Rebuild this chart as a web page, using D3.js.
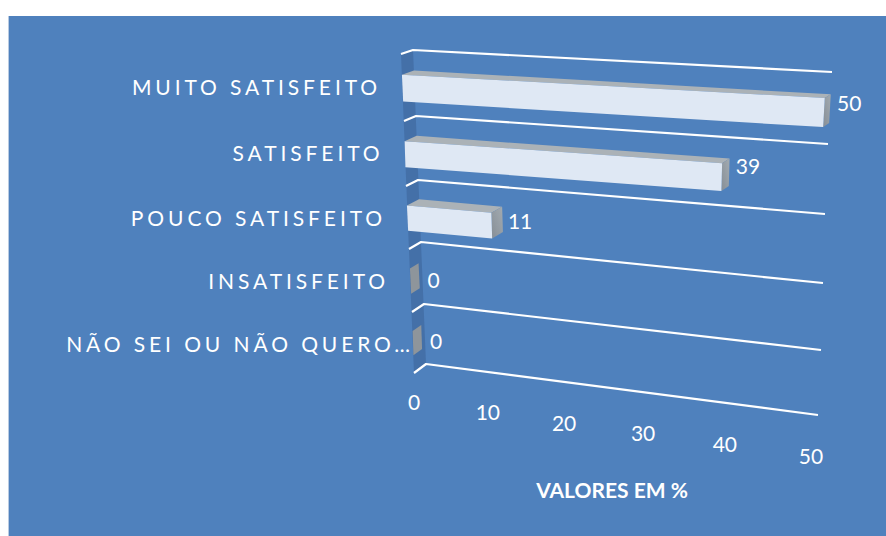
<!DOCTYPE html>
<html><head><meta charset="utf-8">
<script src="https://cdnjs.cloudflare.com/ajax/libs/d3/7.8.5/d3.min.js"></script>
<style>html,body{margin:0;padding:0;background:#fff}svg{display:block}text{font-family:Lato,"Open Sans",sans-serif;fill:#fff}</style>
</head><body><svg id="c" width="886" height="536"></svg>
<script>
const categories = ["MUITO SATISFEITO","SATISFEITO","POUCO SATISFEITO","INSATISFEITO","NÃO SEI OU NÃO QUERO…"];
const values = [50,39,11,0,0];
const ticks = [0,10,20,30,40,50];
const axisTitle = "VALORES EM %";

const svg = d3.select("#c");
const rows = d3.range(6);
// perspective: value -> fraction along the wall, row -> wall edge position
const frac = d3.scaleLinear().domain(ticks).range([0,.186,.378,.577,.783,1]);
const leftX = d3.scaleLinear().domain(rows).range([413,416,418,421,424,426]);
const leftY = d3.scaleLinear().domain(rows).range([50,116,180,242,304,364]);
const rightX = d3.scaleLinear().domain(rows).range([832,828,825,823,821,818]);
const rightY = d3.scaleLinear().domain(rows).range([72,144,214,283,350,415]);
const depthX = d3.scaleLinear().domain([0,1]).range([-12,-6]);
const depthY = d3.scaleLinear().domain([0,5]).range([4,9]);
function P(v,w,d){
  const u=frac(v);
  return [leftX(w)+(rightX(w)-leftX(w))*u+depthX(u)*d,
          leftY(w)+(rightY(w)-leftY(w))*u+depthY(w)*d*(1-.15*u)];
}
const line=d3.line();
const poly=pts=>line(pts)+"Z";
const defs=svg.append("defs");
const g=defs.append("linearGradient").attr("id","side").attr("x1",0).attr("y1",1).attr("x2",1).attr("y2",0);
g.append("stop").attr("offset",0).attr("stop-color","#868E96");
g.append("stop").attr("offset",1).attr("stop-color","#A3ABB1");

svg.append("rect").attr("x",8).attr("y",16).attr("width",1).attr("height",520).attr("fill","#B9CBE2");
svg.append("rect").attr("x",9).attr("y",16).attr("width",877).attr("height",520).attr("fill","#4F81BD");

// side wall
svg.append("path").attr("fill","#4470A8").attr("d",poly([P(0,0,0),P(0,5,0),P(0,5,1),P(0,0,1)]));
// gridlines
rows.forEach(r=>{
  svg.append("path").attr("fill","none").attr("stroke","#fff").attr("stroke-width",2.2)
   .attr("stroke-linejoin","round").attr("d",line([P(0,r,1),P(0,r,0),P(50,r,0)]));
});
// bars
const barTop=.31, barBot=.71;
values.forEach((v,i)=>{
  const a=i+barTop,b=i+barBot,d0=v===0?.28:0,u=frac(v);
  svg.append("path").attr("fill","#ABB2B7").attr("d",poly([P(0,a,1),P(0,a,d0),P(v,a,d0),P(v,a,1)]));
  svg.append("path").attr("fill",v===0?"#8E959B":"url(#side)").attr("d",poly([P(v,a,1),P(v,a,d0),P(v,b,d0),P(v,b,1)]));
  svg.append("path").attr("fill","#DFE8F4").attr("d",poly([P(0,a,1),P(v,a,1),P(v,b,1),P(0,b,1)]));
  const e=P(v,i+.5,0);
  svg.append("text").attr("x",e[0]+5+2*u).attr("y",e[1]+Math.max(-2.5,10-25*u)).attr("dominant-baseline","middle")
    .attr("font-size",21).text(v);
  const f=P(0,i+.5,1);
  svg.append("text").attr("x",f[0]-(i===4?-1:21.5)).attr("y",f[1]+2+i*.5).attr("dominant-baseline","middle")
    .attr("text-anchor","end").attr("font-size",21).attr("letter-spacing",3.9).text(categories[i]);
});
// axis tick labels
ticks.forEach(t=>{
  const p=P(t,5,1);
  svg.append("text").attr("x",p[0]-frac(t)).attr("y",p[1]+32+4*frac(t)).attr("dominant-baseline","middle")
   .attr("text-anchor","middle").attr("font-size",21).text(t);
});
svg.append("text").attr("x",612).attr("y",493).attr("dominant-baseline","middle").attr("text-anchor","middle")
  .attr("font-size",21).attr("font-weight",700).text(axisTitle);
</script></body></html>
